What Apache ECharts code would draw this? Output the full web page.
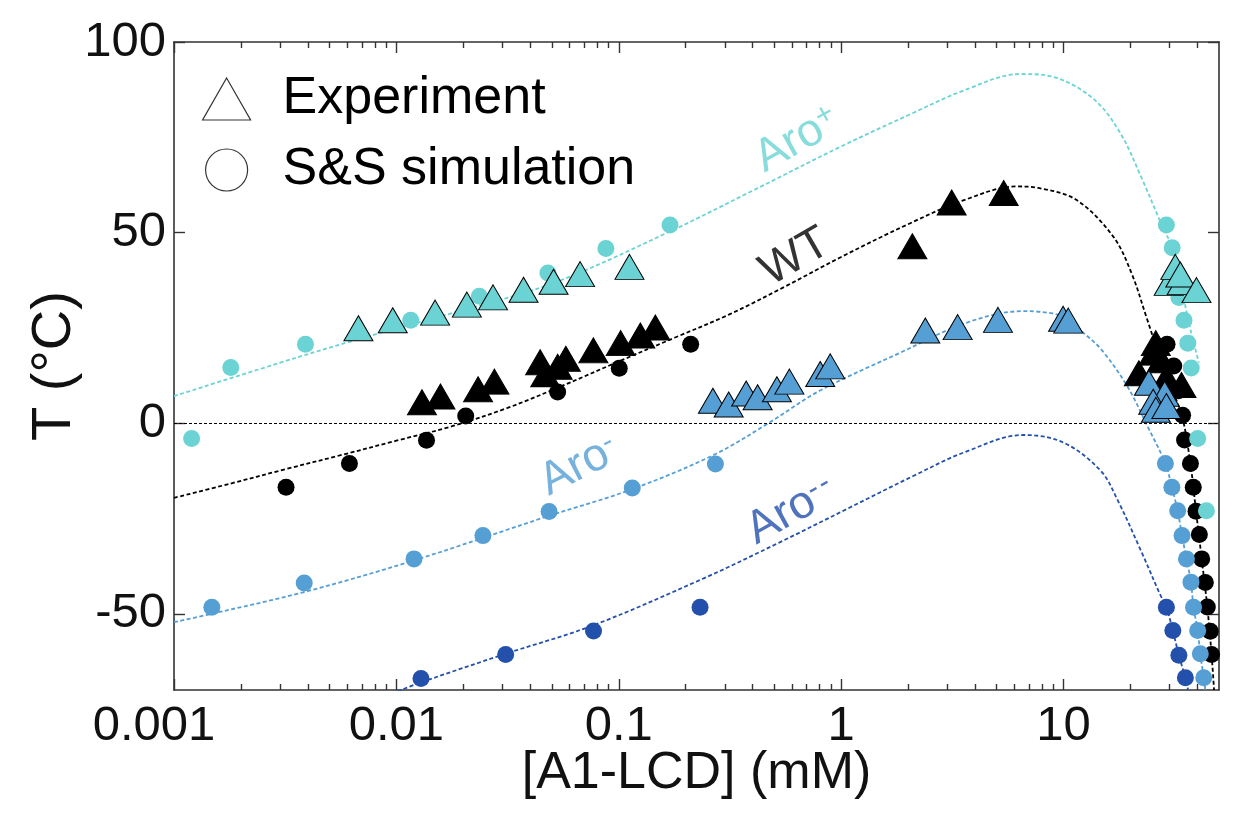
<!DOCTYPE html>
<html>
<head>
<meta charset="utf-8">
<script src="https://cdn.jsdelivr.net/npm/echarts@6/dist/echarts.min.js"></script>
<style>
  html, body { margin: 0; padding: 0; background: #fff; }
  #chart { width: 1237px; height: 822px; }
</style>
</head>
<body>
<div id="chart"></div>
<script>
const FONT = '"Liberation Sans", Arial, Helvetica, sans-serif';

const COLOR_WT = '#000000';
const COLOR_PLUS = '#6bd3d3';
const COLOR_MINUS = '#559fd4';
const COLOR_MINUS2 = '#2350ab';

// dashed binodal curves [conc mM, T degC]
const wtCurve = [[0.001, -19.6], [0.00178, -15.9], [0.00316, -12.1], [0.00562, -8.4], [0.01, -4.6],
  [0.0178, -0.8], [0.0316, 4.0], [0.0562, 9.9], [0.1, 16.2], [0.178, 22.4], [0.316, 28.6], [0.562, 35.9],
  [1.0, 43.6], [2.0, 52.2], [3.6, 58.6], [6.15, 62.1], [7.7, 61.7], [11.4, 58.6], [16.7, 49], [20.2, 39.4],
  [23.5, 28.1], [28.4, 13.7], [34, 2], [37.2, -10.7], [39.4, -23], [41.8, -35.6], [44.3, -48.2],
  [46.3, -60.7], [47.5, -70]];
const aroPlusCurve = [[0.001, 7.1], [0.00356, 17.2], [0.0076, 22.9], [0.0169, 28.5], [0.051, 36.8], [0.17, 50.3],
  [0.4, 61], [1.0, 72.6], [2.02, 80.9], [3.6, 87.4], [6.4, 91.6], [9.4, 90.5], [13.8, 84.8], [18, 76.1],
  [22.6, 63.9], [27.4, 52.5], [30.8, 46], [33.5, 36.9], [37.2, 24.6], [40.6, 15.9]];
const aroMinusCurve = [[0.001, -52.2], [0.00148, -50], [0.00385, -44.3], [0.012, -36], [0.0486, -24.3],
  [0.115, -17.3], [0.27, -8.2], [0.48, 0.3], [0.8, 8.5], [1.846, 18.5], [3.68, 26.4], [6.62, 29.4], [10.4, 27.7],
  [12.3, 23.7], [14.7, 19.5], [19.3, 9.8], [23.8, -0.7], [28.7, -10.6], [30.7, -16.8], [32.6, -23],
  [34.1, -29.5], [35.7, -35.6], [37.4, -41.7], [38.4, -48.3], [40.1, -54.4], [41.2, -60.5], [42.7, -66.8],
  [43.4, -70]];
const aroMinus2Curve = [[0.0095, -71], [0.0129, -68], [0.031, -60.5], [0.077, -53], [0.241, -40.7],
  [0.532, -31.2], [1.062, -22.5], [2.12, -13.8], [3.56, -7.7], [6.62, -3.1], [10, -5.1], [14.7, -12.5],
  [17.4, -19.9], [22.1, -33], [27.3, -45.2], [29, -48.3], [31, -54.4], [33, -60.9], [35.3, -66.8], [36.3, -70]];

// S&S simulation (circles)
const wtSim = [[0.00319, -16.8], [0.00615, -10.6], [0.01366, -4.5], [0.0205, 1.9], [0.0531, 8.2], [0.1005, 14.4],
  [0.2105, 20.7], [29.2, 20.7], [31.3, 15], [32.9, 8.5], [34.3, 2.1], [35, -4.4], [37.2, -10.6], [38.3, -16.8],
  [39.4, -23.1], [40.8, -29.2], [41.8, -35.6], [43.4, -41.8], [44.3, -48.2], [45.7, -54.6], [46.3, -60.7]];
const aroMinusSim = [[0.00148, -48.3], [0.00385, -41.9], [0.012, -35.6], [0.0245, -29.5], [0.0486, -23.2],
  [0.115, -17], [0.272, -10.7], [28.7, -10.6], [30.7, -16.8], [32.6, -23], [34.1, -29.5], [35.7, -35.6],
  [37.4, -41.7], [38.4, -48.3], [40.1, -54.4], [41.2, -60.5], [42.7, -66.8]];
const aroMinus2Sim = [[0.0129, -67], [0.031, -60.7], [0.077, -54.5], [0.232, -48.3], [29, -48.3], [31, -54.4],
  [33, -60.9], [35.3, -66.8]];
const aroPlusSim = [[0.0012, -4], [0.0018, 14.6], [0.0039, 20.7], [0.0116, 27], [0.0236, 33.3], [0.048, 39.4],
  [0.0875, 45.8], [0.17, 52], [29, 52], [30.8, 46], [33, 33], [34.8, 27], [36.2, 21], [37.5, 14.5],
  [40.1, -4], [43.9, -23]];

// Experiment (triangles)
const wtExp = [[0.01303, 5.5], [0.01578, 7], [0.0233, 8.9], [0.0276, 10.9], [0.0443, 16], [0.0467, 12.8],
  [0.0531, 14.8], [0.0578, 16.9], [0.0769, 19.1], [0.102, 21], [0.125, 23], [0.146, 25.1], [2.09, 46.4],
  [3.14, 57.9], [5.38, 60.4], [21.8, 13.1], [25.4, 18.5], [26, 21], [27.5, 16.5], [29, 12], [33.9, 10]];
const aroMinusExp = [[0.265, 5.9], [0.312, 4.9], [0.374, 7.8], [0.421, 6.8], [0.514, 8.9], [0.585, 10.9],
  [0.805, 12.9], [0.893, 14.9], [2.39, 24.3], [3.34, 25.2], [5.07, 27.1], [9.95, 27.4], [10.5, 26.9],
  [24.2, 10.6], [28.5, 7.7], [25.3, 5.6], [26, 3.5], [29, 4.5]];
const aroPlusExp = [[0.00675, 24.9], [0.00963, 27], [0.01493, 29], [0.02074, 31.1], [0.0272, 33], [0.0373, 35],
  [0.0509, 37.1], [0.067, 39.1], [0.1117, 41], [29.7, 36.8], [34, 37], [31.8, 41], [33.5, 39], [39.6, 34.9]];

// curve labels: [x, y, rotation]
const labelWT = [0.621, 43.5, 30];
const labelPlus = [0.635, 74.3, 29];
const labelMinus = [0.0664, -11.2, 27];
const labelMinus2 = [0.596, -23, 29];

const xMajorTicks = [0.001, 0.01, 0.1, 1, 10];
const yTicks = [-50, 0, 50, 100];
const xMinorTicks = [];
xMajorTicks.forEach(d => {
  for (let k = 2; k <= 9; k++) {
    const v = +(k * d).toPrecision(3);
    if (v < 50) xMinorTicks.push(v);
  }
});

const axisColor = '#333';

function xAxisOf(position, ticks, len, main) {
  return {
    type: 'log', logBase: 10, min: 0.001, max: 50, position: position,
    name: main ? '[A1-LCD] (mM)' : '',
    nameLocation: 'middle', nameGap: 58, nameMoveOverlap: false,
    nameTextStyle: { fontSize: 52, color: '#111', fontFamily: FONT },
    axisLine: { show: len > 8, onZero: false, lineStyle: { color: axisColor, width: 1.6 } },
    axisTick: { show: true, inside: true, length: len, customValues: ticks,
      lineStyle: { color: axisColor, width: 1.4 } },
    axisLabel: {
      show: main, customValues: ticks, margin: 12, fontSize: 49, color: '#111', fontFamily: FONT,
      // first label sits a little left of its tick in the original
      formatter: v => {
        const s = String(+(+v).toPrecision(3));
        return s === '0.001' ? '{first|' + s + '}' : s;
      },
      rich: { first: { fontSize: 49, color: '#111', fontFamily: FONT, padding: [0, 40, 0, 0] } }
    },
    splitLine: { show: false },
    minorTick: { show: false }
  };
}

function yAxisOf(position, main) {
  return {
    type: 'value', min: -70, max: 100, position: position,
    name: main ? 'T (°C)' : '',
    nameLocation: 'middle', nameGap: 91, nameMoveOverlap: false,
    nameTextStyle: { fontSize: 56, color: '#111', fontFamily: FONT },
    axisLine: { show: true, onZero: false, lineStyle: { color: axisColor, width: 1.6 } },
    axisTick: { show: true, inside: true, length: 11, customValues: yTicks,
      lineStyle: { color: axisColor, width: 1.4 } },
    axisLabel: { show: main, customValues: yTicks, margin: 8, fontSize: 49, color: '#111', fontFamily: FONT },
    splitLine: { show: false }
  };
}

function curve(data, color, extra) {
  return Object.assign({
    type: 'line', data: data, showSymbol: false, symbol: 'none', smooth: 0.35,
    lineStyle: { color: color, width: 1.8, type: [4, 2.5] },
    silent: true, z: 1
  }, extra || {});
}

function sim(data, color) {
  return { type: 'scatter', data: data, symbol: 'circle', symbolSize: 17,
    itemStyle: { color: color, opacity: 1 }, silent: true, z: 3 };
}

function exp(data, color) {
  return { type: 'scatter', data: data, symbol: 'triangle', symbolSize: [29, 25],
    itemStyle: { color: color, borderColor: '#000', borderWidth: 1, opacity: 1 }, silent: true, z: 4 };
}

function tag(pos, text, sup, color) {
  return {
    type: 'scatter', data: [[pos[0], pos[1]]], symbolSize: 1, itemStyle: { color: 'transparent' },
    silent: true, z: 5,
    label: {
      show: true, position: 'inside', rotate: pos[2],
      formatter: sup ? '{a|' + text + '}{b|' + sup + '}' : '{a|' + text + '}',
      rich: {
        a: { fontSize: 46, color: color, fontFamily: FONT },
        b: { fontSize: 30, color: color, fontFamily: FONT, verticalAlign: 'top' }
      }
    }
  };
}

const chart = echarts.init(document.getElementById('chart'), null, { renderer: 'canvas' });

chart.setOption({
  animation: false,
  backgroundColor: '#fff',
  textStyle: { fontFamily: FONT },
  grid: { left: 174, right: 18, top: 42, bottom: 132, containLabel: false, outerBoundsMode: 'none' },
  legend: {
    orient: 'vertical', left: 197, top: 68, itemWidth: 48, itemHeight: 42, itemGap: 19,
    selectedMode: false,
    formatter: name => '{t|' + name + '}',
    textStyle: {
      fontSize: 52, color: '#000', fontFamily: FONT,
      rich: { t: { fontSize: 52, color: '#000', fontFamily: FONT, padding: [0, 0, 0, 27] } }
    },
    data: [
      { name: 'Experiment', icon: 'triangle', itemStyle: { color: '#fff', borderColor: '#000', borderWidth: 1.2 } },
      { name: 'S&S simulation', icon: 'circle', itemStyle: { color: '#fff', borderColor: '#000', borderWidth: 1.2 } }
    ]
  },
  xAxis: [
    xAxisOf('bottom', xMajorTicks, 11, true),
    xAxisOf('bottom', xMinorTicks, 6, false),
    xAxisOf('top', xMajorTicks, 11, false),
    xAxisOf('top', xMinorTicks, 6, false)
  ],
  yAxis: [yAxisOf('left', true), yAxisOf('right', false)],
  series: [
    curve(wtCurve, COLOR_WT, {
      markLine: {
        silent: true, symbol: ['none', 'none'], label: { show: false },
        lineStyle: { color: '#000', width: 1, type: [3, 2] },
        data: [{ yAxis: 0 }]
      }
    }),
    curve(aroPlusCurve, COLOR_PLUS),
    curve(aroMinusCurve, COLOR_MINUS),
    curve(aroMinus2Curve, COLOR_MINUS2),
    sim(wtSim, COLOR_WT),
    sim(aroMinusSim, COLOR_MINUS),
    sim(aroMinus2Sim, COLOR_MINUS2),
    sim(aroPlusSim, COLOR_PLUS),
    exp(wtExp, COLOR_WT),
    exp(aroMinusExp, COLOR_MINUS),
    exp(aroPlusExp, COLOR_PLUS),
    tag(labelPlus, 'Aro', '+', COLOR_PLUS),
    tag(labelWT, 'WT', '', COLOR_WT),
    tag(labelMinus, 'Aro', '-', COLOR_MINUS),
    tag(labelMinus2, 'Aro', '-\u200a-', COLOR_MINUS2),
    { name: 'Experiment', type: 'scatter', data: [] },
    { name: 'S&S simulation', type: 'scatter', data: [] }
  ]
});
</script>
</body>
</html>
